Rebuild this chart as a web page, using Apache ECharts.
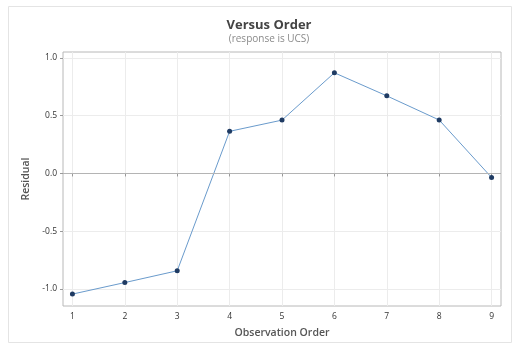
<!DOCTYPE html>
<html>
<head>
<meta charset="utf-8">
<script src="https://cdn.jsdelivr.net/npm/echarts@6/dist/echarts.min.js"></script>
<style>
  html, body { margin: 0; padding: 0; background: #fff; }
  #chart { width: 515px; height: 348px; }
</style>
</head>
<body>
<div id="chart"></div>
<script>
// Residuals in observation order
const observationOrder = [1, 2, 3, 4, 5, 6, 7, 8, 9];
const residuals = [-1.045, -0.945, -0.843, 0.365, 0.462, 0.872, 0.672, 0.463, -0.035];
const xTickValues = [1, 2, 3, 4, 5, 6, 7, 8, 9];
const yTickValues = [-1.0, -0.5, 0.0, 0.5, 1.0];

const FONT = '"Open Sans", "Noto Sans", sans-serif';
const chart = echarts.init(document.getElementById('chart'), null, { renderer: 'canvas' });

chart.setOption({
  animation: false,
  backgroundColor: '#fff',
  textStyle: { fontFamily: FONT },
  title: {
    text: 'Versus Order',
    subtext: '(response is UCS)',
    left: 264,
    textAlign: 'center',
    top: 14,
    itemGap: 2,
    textStyle: { fontSize: 13, fontWeight: 'bold', color: '#444', fontFamily: FONT },
    subtextStyle: { fontSize: 10, color: '#8a8a8a', fontFamily: FONT }
  },
  graphic: [{
    type: 'rect',
    shape: { x: 8.5, y: 6.5, width: 503, height: 336 },
    style: { fill: 'none', stroke: '#e4e4e4', lineWidth: 1 },
    silent: true, z: -1
  }],
  grid: {
    left: 63, right: 14, top: 52, bottom: 42,
    show: true, borderColor: '#b8b8b8', borderWidth: 1, backgroundColor: '#fff'
  },
  xAxis: {
    type: 'value',
    min: 0.82, max: 9.18,
    name: 'Observation Order',
    nameLocation: 'middle',
    nameGap: 22,
    nameTextStyle: { fontSize: 10.5, fontWeight: 600, color: '#555', fontFamily: FONT },
    axisLine: { show: false },
    axisTick: { show: true, length: 3, lineStyle: { color: '#999' }, customValues: xTickValues },
    axisLabel: { fontSize: 8.5, color: '#333', margin: 6, customValues: xTickValues, formatter: v => String(v) },
    splitLine: { show: true, lineStyle: { color: '#ececec', width: 1 } }
  },
  yAxis: {
    type: 'value',
    min: -1.148, max: 1.052,
    name: 'Residual',
    nameLocation: 'middle',
    nameGap: 22,
    nameTextStyle: { fontSize: 10.5, fontWeight: 600, color: '#555', fontFamily: FONT },
    axisLine: { show: false },
    axisTick: { show: true, length: 3, lineStyle: { color: '#999' }, customValues: yTickValues },
    axisLabel: { fontSize: 8.5, color: '#333', margin: 6, customValues: yTickValues, formatter: v => v.toFixed(1) },
    splitLine: { show: true, lineStyle: { color: '#ececec', width: 1 } }
  },
  series: [{
    type: 'line',
    data: observationOrder.map((x, i) => [x, residuals[i]]),
    symbol: 'circle',
    symbolSize: 5,
    itemStyle: { color: '#1f3b63' },
    lineStyle: { color: '#6a9bcc', width: 1 },
    markLine: {
      silent: true,
      symbol: 'none',
      label: { show: false },
      lineStyle: { color: '#b4b4b4', type: 'solid', width: 1 },
      data: [{ yAxis: 0 }]
    },
    z: 3
  }]
});
</script>
</body>
</html>
